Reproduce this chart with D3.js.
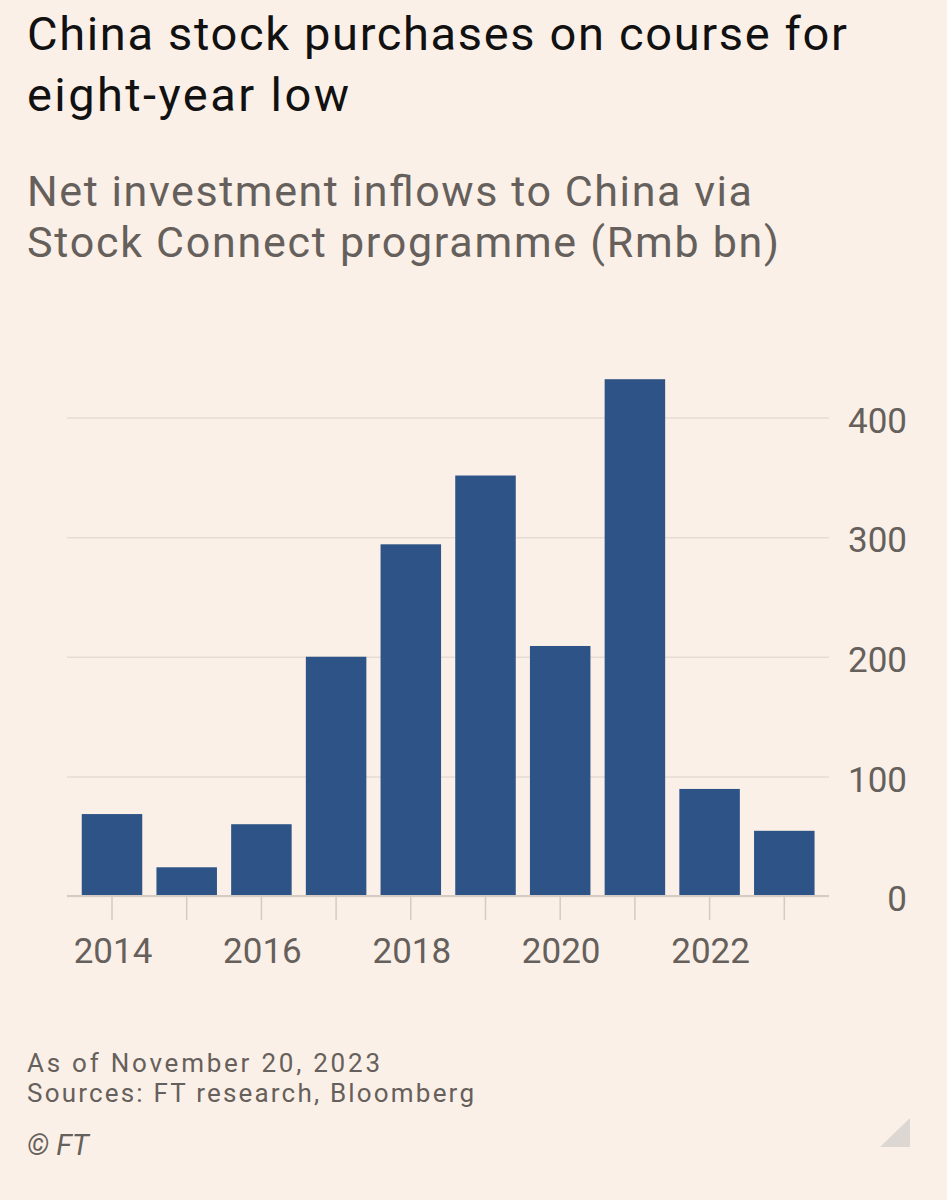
<!DOCTYPE html>
<html>
<head>
<meta charset="utf-8">
<script src="https://cdn.jsdelivr.net/npm/d3@7"></script>
<style>
  html, body { margin: 0; padding: 0; background: #fbf0e7; }
  svg { display: block; }
</style>
</head>
<body>
<svg id="chart" width="947" height="1200"></svg>
<script>
const years = [2014, 2015, 2016, 2017, 2018, 2019, 2020, 2021, 2022, 2023];
const inflows = [68.5, 24, 60, 200, 294, 351.5, 209, 432, 89.5, 54.5];
const yTicks = [0, 100, 200, 300, 400];
const xTickLabels = [2014, 2016, 2018, 2020, 2022];
const titleLines = ["China stock purchases on course for", "eight-year low"];
const subtitleLines = ["Net investment inflows to China via", "Stock Connect programme (Rmb bn)"];
const footerLines = ["As of November 20, 2023", "Sources: FT research, Bloomberg"];

const FONT = "Roboto, 'Noto Sans', sans-serif";
const GREY = "#66605c";
const svg = d3.select("#chart");

svg.append("rect").attr("width", 947).attr("height", 1200).attr("fill", "#fbf0e7");

// Title
const titleW = [820, 322];
titleLines.forEach((t, i) => {
  svg.append("text").attr("x", 27).attr("y", 50 + i * 61)
    .attr("font-family", FONT).attr("font-size", 47).attr("fill", "#111")
    .attr("textLength", titleW[i]).attr("lengthAdjust", "spacing")
    .text(t);
});
// Subtitle
const subW = [725, 752];
subtitleLines.forEach((t, i) => {
  svg.append("text").attr("x", 27).attr("y", 206 + i * 51)
    .attr("font-family", FONT).attr("font-size", 43).attr("fill", GREY)
    .attr("textLength", subW[i]).attr("lengthAdjust", "spacing")
    .text(t);
});

// Scales
const x = d3.scaleBand().domain(years).range([74.65, 821.65]).paddingInner(0.19).paddingOuter(0.095);
const y = d3.scaleLinear().domain([0, 400]).range([896, 417.5]);
const plotLeft = 67, plotRight = 829;

// Y axis with gridlines (right side)
const yAxis = d3.axisRight(y).tickValues(yTicks).tickSize(-(plotRight - plotLeft)).tickFormat(d3.format("d"));
const yg = svg.append("g").attr("transform", `translate(${plotRight},0)`).call(yAxis);
yg.select(".domain").remove();
yg.selectAll(".tick line").attr("stroke", "#e4dcd5").attr("stroke-width", 1.5);
yg.selectAll(".tick text")
  .attr("x", 78).attr("dy", "0.42em").attr("text-anchor", "end")
  .attr("font-family", FONT).attr("font-size", 35).attr("fill", GREY);

// Bars
svg.append("g").selectAll("rect").data(years).join("rect")
  .attr("x", d => x(d))
  .attr("width", x.bandwidth())
  .attr("y", (d, i) => y(inflows[i]))
  .attr("height", (d, i) => y(0) - y(inflows[i]))
  .attr("fill", "#2d5387");

// Baseline
svg.append("line").attr("x1", plotLeft).attr("x2", plotRight).attr("y1", y(0)).attr("y2", y(0))
  .attr("stroke", "#d3cbc4").attr("stroke-width", 2);

// X axis
const xAxis = d3.axisBottom(x).tickSize(24).tickSizeOuter(0)
  .tickFormat(d => xTickLabels.includes(d) ? String(d) : "");
const xg = svg.append("g").attr("transform", `translate(0,${y(0)})`).call(xAxis);
xg.select(".domain").remove();
xg.selectAll(".tick line").attr("stroke", "#d3cbc4").attr("stroke-width", 1.5);
xg.selectAll(".tick text")
  .attr("y", 67).attr("dy", 0).attr("dx", 1)
  .attr("font-family", FONT).attr("font-size", 35).attr("fill", GREY);

// Footer
const footW = [353, 447];
footerLines.forEach((t, i) => {
  svg.append("text").attr("x", 27).attr("y", 1072 + i * 30)
    .attr("font-family", FONT).attr("font-size", 26).attr("fill", GREY)
    .attr("textLength", footW[i]).attr("lengthAdjust", "spacing")
    .text(t);
});
svg.append("text").attr("x", 27).attr("y", 1155)
  .attr("font-family", FONT).attr("font-style", "italic").attr("font-size", 29).attr("fill", GREY)
  .text("© FT");

// Corner triangle
svg.append("path").attr("d", "M880,1147 L910,1118 L910,1147 Z").attr("fill", "#dcd7d3");
</script>
</body>
</html>
